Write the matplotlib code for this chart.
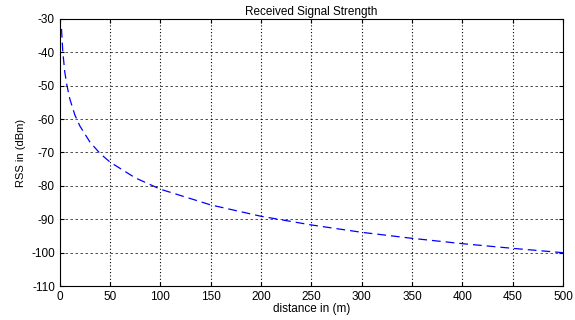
import matplotlib
matplotlib.use("Agg")
import matplotlib.pyplot as plt

# values
distance = [1.7, 3, 5, 7, 10, 15, 20, 30, 40, 50, 75, 100, 150, 200, 250, 300, 350, 400, 450, 500]
rss = [-33, -40, -46, -49.8, -54, -58.8, -62.1, -66.9, -70.3, -72.9, -77.6, -81, -85.7,
       -89.1, -91.7, -93.9, -95.7, -97.3, -98.7, -100]

xticks = [0, 50, 100, 150, 200, 250, 300, 350, 400, 450, 500]
yticks = [-110, -100, -90, -80, -70, -60, -50, -40, -30]

plt.rcParams['font.family'] = ['Liberation Sans', 'DejaVu Sans']
plt.rcParams['axes.unicode_minus'] = False

fig = plt.figure(figsize=(5.75, 3.2), dpi=100)
ax = fig.add_axes([0.104, 0.106, 0.875, 0.835])
ax.plot(distance, rss, color='blue', linestyle=(0, (7, 4)), linewidth=0.9)

ax.set_xlim(0, 500)
ax.set_ylim(-110, -30)
ax.set_xticks(xticks)
ax.set_yticks(yticks)
ax.tick_params(labelsize=8.5, direction='in', length=3, width=0.8,
               top=True, right=True)

for x in xticks[1:-1]:
    ax.axvline(x, color='black', linestyle=(0, (1, 2)), linewidth=0.8)
for y in yticks[1:-1]:
    ax.axhline(y, color='black', linestyle=(0, (3, 3)), linewidth=0.6, alpha=0.8)

for s in ax.spines.values():
    s.set_linewidth(0.8)

ax.set_title("Received Signal Strength", fontsize=8.5, pad=3)
ax.set_xlabel("distance in (m)", fontsize=8.5, labelpad=0)
ax.set_ylabel("RSS in (dBm)", fontsize=8, labelpad=4)

fig.savefig("out.png", dpi=100)
